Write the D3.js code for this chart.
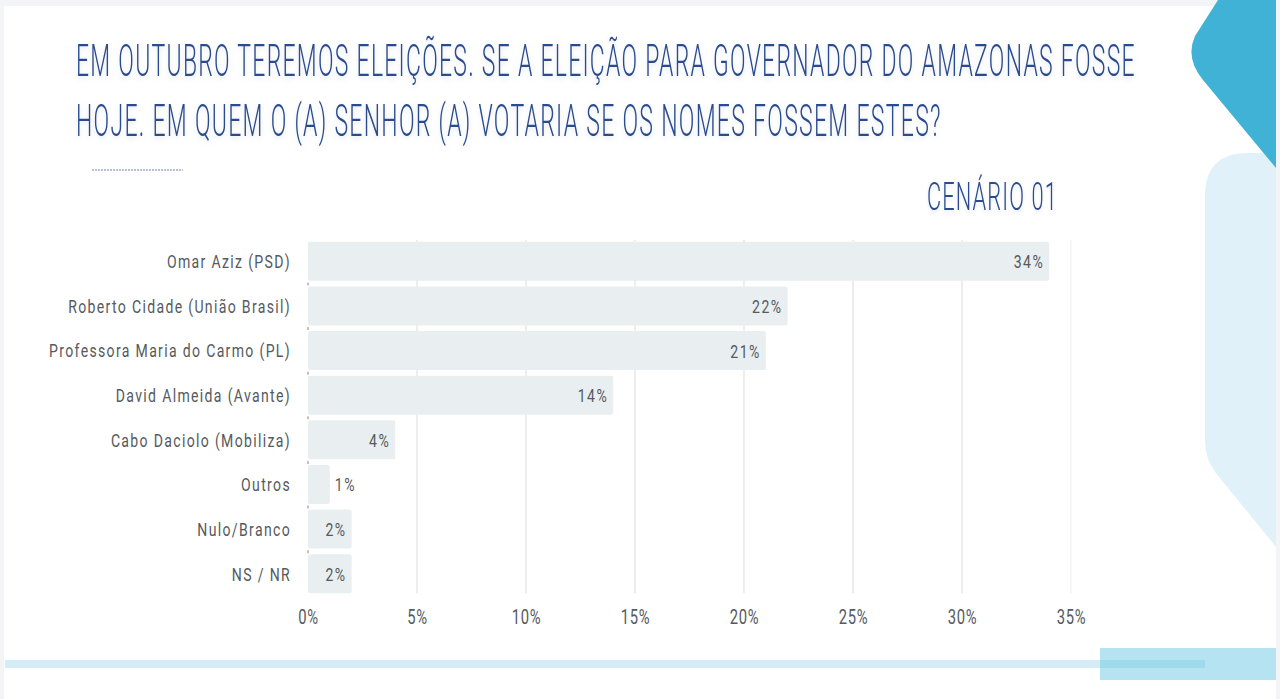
<!DOCTYPE html>
<html>
<head>
<meta charset="utf-8">
<script src="https://cdn.jsdelivr.net/npm/d3@7"></script>
<style>
  html, body { margin: 0; padding: 0; background: #ffffff; }
  svg { display: block; }
</style>
</head>
<body>
<svg id="chart" width="1280" height="699"></svg>
<script>
// data
const categories = [
    "Omar Aziz (PSD)",
    "Roberto Cidade (União Brasil)",
    "Professora Maria do Carmo (PL)",
    "David Almeida (Avante)",
    "Cabo Daciolo (Mobiliza)",
    "Outros",
    "Nulo/Branco",
    "NS / NR"
];
const values = [34, 22, 21, 14, 4, 1, 2, 2];
const xTicks = [0, 5, 10, 15, 20, 25, 30, 35];
const titleLines = [
    "EM OUTUBRO TEREMOS ELEIÇÕES. SE A ELEIÇÃO PARA GOVERNADOR DO AMAZONAS FOSSE",
    "HOJE. EM QUEM O (A) SENHOR (A) VOTARIA SE OS NOMES FOSSEM ESTES?"
];
const scenario = "CENÁRIO 01";

const svg = d3.select("#chart");
const font = "Roboto, 'DejaVu Sans Condensed', sans-serif";
const textGray = "#555a5e";
const titleBlue = "#2c4c8e";
const squeeze = 0.74;

// squeeze a text horizontally so it spans the wanted width
function fitWidth(text, x0, y0, wanted) {
    const natural = text.node().getComputedTextLength();
    text.attr("transform", `translate(${x0}, ${y0}) scale(${wanted / natural}, 1)`);
}

const defs = svg.append("defs");
const glow = defs.append("filter").attr("id", "glow")
    .attr("x", "-5%").attr("y", "-30%").attr("width", "110%").attr("height", "160%");
glow.append("feDropShadow")
    .attr("dx", 0).attr("dy", 2).attr("stdDeviation", 2.5)
    .attr("flood-color", "#7f95c4").attr("flood-opacity", 0.25);

// page frame
svg.append("rect").attr("width", 1280).attr("height", 699).attr("fill", "#f3f4f5");
svg.append("rect").attr("x", 4).attr("y", 6).attr("width", 1272).attr("height", 693).attr("fill", "#ffffff");

// right side decorations
svg.append("path")
    .attr("d", "M1276,153 L1248,153 Q1205,153 1205,196 L1205,440 Q1205,458 1215,472 L1276,547 Z")
    .attr("fill", "#e0f1f9");
svg.append("path")
    .attr("d", "M1218,0 L1276,0 L1276,168 L1203,80 Q1185,58 1195,36 Z")
    .attr("fill", "#3fb2d5");

// bottom band
svg.append("rect").attr("x", 5).attr("y", 660).attr("width", 1200).attr("height", 8).attr("fill", "#d3ecf5");
svg.append("rect").attr("x", 1100).attr("y", 648).attr("width", 176).attr("height", 32)
    .attr("fill", "#6cc8e4").attr("opacity", 0.5);

// title
const titleWidths = [1060, 866];
svg.append("g")
    .attr("fill", titleBlue)
    .attr("filter", "url(#glow)")
    .style("font-family", font)
    .style("font-weight", 300)
    .selectAll("text")
    .data(titleLines)
    .enter()
    .append("text")
        .attr("font-size", 45)
        .attr("letter-spacing", 2.5)
        .text(d => d)
        .each(function(d, i) {
            fitWidth(d3.select(this), 76, 76 + i * 60, titleWidths[i]);
        });

svg.append("line")
    .attr("x1", 92).attr("x2", 183).attr("y1", 170).attr("y2", 170)
    .attr("stroke", "#9fadd0").attr("stroke-width", 1.5)
    .attr("stroke-dasharray", "2,1");

const scen = svg.append("text")
    .attr("font-size", 39)
    .attr("letter-spacing", 2)
    .attr("fill", titleBlue)
    .attr("filter", "url(#glow)")
    .style("font-family", font)
    .style("font-weight", 300)
    .text(scenario);
fitWidth(scen, 927, 210, 131);

// plot
const margin = {left: 308, top: 239};
const width = 763;
const height = 357;

const x = d3.scaleLinear().domain([0, 35]).range([0, width]);
const y = d3.scaleBand()
    .domain(categories)
    .range([0, height])
    .paddingInner(0.125)
    .paddingOuter(0.0625);

const plot = svg.append("g")
    .attr("transform", `translate(${margin.left}, ${margin.top})`);

const gridBottom = y(categories[categories.length - 1]) + y.bandwidth();

plot.append("g")
    .attr("class", "grid")
    .selectAll("line")
    .data(xTicks.slice(1))
    .enter()
    .append("line")
        .attr("x1", d => x(d))
        .attr("x2", d => x(d))
        .attr("y1", 1)
        .attr("y2", gridBottom)
        .attr("stroke", d => d === 35 ? "#f1f1f1" : "#e2e2e2")
        .attr("stroke-width", 1.2);

const data = categories.map((c, i) => ({name: c, value: values[i]}));

plot.selectAll(".bar")
    .data(data)
    .enter()
    .append("rect")
        .attr("class", "bar")
        .attr("x", 0)
        .attr("y", d => y(d.name))
        .attr("width", d => x(d.value))
        .attr("height", y.bandwidth())
        .attr("rx", 2)
        .attr("fill", "#e9eef0");

// little marks on the zero line between bars
plot.selectAll(".sep")
    .data(categories.slice(1))
    .enter()
    .append("line")
        .attr("class", "sep")
        .attr("x1", 0).attr("x2", 0)
        .attr("y1", d => y(d) - 4)
        .attr("y2", d => y(d) - 1)
        .attr("stroke", "#9a9a9a")
        .attr("stroke-width", 1.2);

// value labels
plot.selectAll(".val")
    .data(data)
    .enter()
    .append("text")
        .attr("class", "val")
        .attr("transform", d => {
            const inside = x(d.value) > 30;
            const px = inside ? x(d.value) - 5 : x(d.value) + 5;
            return `translate(${px}, ${y(d.name) + y.bandwidth() / 2 + 7}) scale(${squeeze}, 1)`;
        })
        .attr("text-anchor", d => x(d.value) > 30 ? "end" : "start")
        .attr("font-size", 19)
        .attr("letter-spacing", 2)
        .attr("fill", textGray)
        .style("font-family", font)
        .text(d => d.value + "%");

// axes
const yAxis = d3.axisLeft(y).tickSize(0).tickPadding(17);
const gY = plot.append("g").call(yAxis);
gY.select(".domain").remove();
gY.selectAll("text")
    .attr("font-size", 19)
    .attr("letter-spacing", 1.8)
    .attr("fill", textGray)
    .style("font-family", font)
    .attr("dy", "0.36em")
    .attr("transform", `scale(${squeeze}, 1)`)
    .attr("x", -17 / squeeze);

const xAxis = d3.axisBottom(x).tickValues(xTicks).tickSize(0).tickFormat(d => d + "%");
const gX = plot.append("g")
    .attr("transform", `translate(0, ${gridBottom})`)
    .call(xAxis);
gX.select(".domain").remove();
gX.selectAll("text")
    .attr("font-size", 20)
    .attr("letter-spacing", 1)
    .attr("fill", textGray)
    .style("font-family", font)
    .attr("y", 31)
    .attr("dy", 0)
    .attr("x", 0)
    .attr("transform", `scale(${squeeze}, 1)`);
</script>
</body>
</html>
